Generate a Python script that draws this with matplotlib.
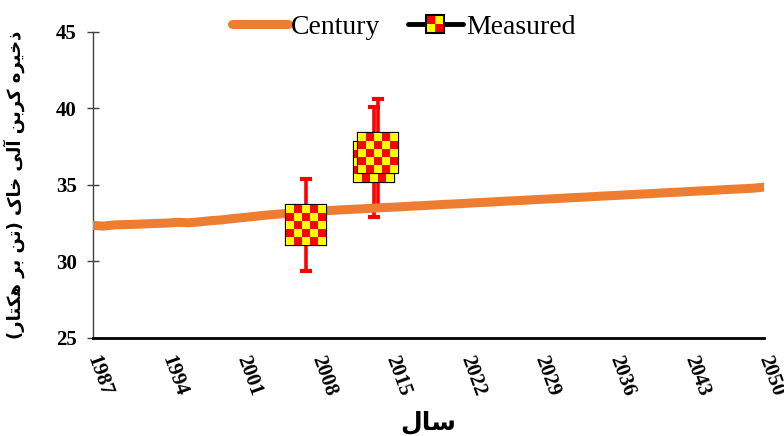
import numpy as np
import matplotlib
matplotlib.use("Agg")
import matplotlib.pyplot as plt
from matplotlib.lines import Line2D
from matplotlib.patches import Rectangle
from matplotlib.offsetbox import OffsetImage, AnnotationBbox
from matplotlib.legend_handler import HandlerBase

# ---------------- data ----------------
years = list(range(1987, 2051))
century = [32.35, 32.30, 32.38, 32.40, 32.42, 32.45, 32.48, 32.50, 32.55, 32.52,
           32.58, 32.65, 32.70, 32.78, 32.85, 32.92, 33.00, 33.06, 33.12, 33.18,
           33.22, 33.27, 33.31, 33.35, 33.39, 33.42, 33.46, 33.50, 33.53, 33.57,
           33.61, 33.64, 33.68, 33.72, 33.75, 33.79, 33.83, 33.86, 33.90, 33.94,
           33.97, 34.01, 34.05, 34.08, 34.12, 34.16, 34.19, 34.23, 34.27, 34.30,
           34.34, 34.38, 34.41, 34.45, 34.49, 34.52, 34.56, 34.60, 34.63, 34.67,
           34.71, 34.74, 34.78, 34.85]
meas_x = [2007.0, 2013.45, 2013.8]
meas_y = [32.37, 36.50, 37.09]
meas_err = [3.0, 3.6, 3.5]

xticks = [1987, 1994, 2001, 2008, 2015, 2022, 2029, 2036, 2043, 2050]
yticks = [25, 30, 35, 40, 45]
ylabel_fa = "ذخیره کربن آلی خاک (تن بر هکتار)"
xlabel_fa = "سال"
legend_labels = ["Century", "Measured"]

ORANGE = "#ED7D31"
RED = "#FF0000"
YELLOW = "#FFFF00"

# ---------- minimal Persian shaping (presentation forms + visual order) ----------
DUAL = {
    'خ': (0xFEA5, 0xFEA6, 0xFEA7, 0xFEA8),
    'ی': (0xFBFC, 0xFBFD, 0xFBFE, 0xFBFF),
    'ه': (0xFEE9, 0xFEEA, 0xFEEB, 0xFEEC),
    'ک': (0xFB8E, 0xFB8F, 0xFB90, 0xFB91),
    'ب': (0xFE8F, 0xFE90, 0xFE91, 0xFE92),
    'ن': (0xFEE5, 0xFEE6, 0xFEE7, 0xFEE8),
    'ل': (0xFEDD, 0xFEDE, 0xFEDF, 0xFEE0),
    'ت': (0xFE95, 0xFE96, 0xFE97, 0xFE98),
    'س': (0xFEB1, 0xFEB2, 0xFEB3, 0xFEB4),
}
RIGHT = {
    'ذ': (0xFEAB, 0xFEAC),
    'ر': (0xFEAD, 0xFEAE),
    'آ': (0xFE81, 0xFE82),
    'ا': (0xFE8D, 0xFE8E),
}


def shape(s):
    out = []
    for i, c in enumerate(s):
        prev = s[i - 1] if i > 0 else ''
        nxt = s[i + 1] if i + 1 < len(s) else ''
        jp = prev in DUAL and (c in DUAL or c in RIGHT)
        if c in DUAL:
            jn = nxt in DUAL or nxt in RIGHT
            f = DUAL[c]
            out.append(chr(f[3] if (jp and jn) else f[1] if jp else f[2] if jn else f[0]))
        elif c in RIGHT:
            f = RIGHT[c]
            out.append(chr(f[1] if jp else f[0]))
        else:
            out.append(c)
    mirror = {'(': ')', ')': '('}
    return ''.join(mirror.get(c, c) for c in reversed(out))


# ---------------- figure ----------------
plt.rcParams['font.family'] = ['Liberation Serif', 'DejaVu Sans']
fig = plt.figure(figsize=(7.84, 4.36), dpi=100)
ax = fig.add_axes([0.118, 0.225, 0.8565, 0.7023])

# error bars (behind line)
ax.errorbar(meas_x, meas_y, yerr=meas_err, fmt='none', ecolor=RED,
            elinewidth=2.6, capsize=4.3, capthick=3.0, zorder=2)

# century line
ax.plot(years, century, color=ORANGE, lw=6.5, solid_capstyle='round', zorder=3)

# checker markers
n = 5
chk = np.zeros((n, n, 3))
for i in range(n):
    for j in range(n):
        chk[i, j] = (1, 1, 0) if (i + j) % 2 == 0 else (1, 0, 0)

for xv, yv in zip(meas_x, meas_y):
    im = OffsetImage(chk, zoom=8, interpolation='nearest', dpi_cor=False)
    ab = AnnotationBbox(im, (xv, yv), xycoords='data', frameon=True, pad=0.0,
                        bboxprops=dict(edgecolor='black', lw=1.6, facecolor='none'),
                        zorder=5)
    ax.add_artist(ab)

ax.set_xlim(1987, 2050)
ax.set_ylim(25, 45)
ax.set_xticks(xticks)
ax.set_yticks(yticks)
ax.set_xticklabels([str(t) for t in xticks], rotation=-70, rotation_mode='anchor',
                   ha='left', va='center', fontsize=15, fontweight='bold')
ax.set_yticklabels([str(t) for t in yticks], fontsize=15, fontweight='bold')
ax.tick_params(axis='x', length=0, pad=13)
ax.tick_params(axis='y', direction='inout', length=8.5, width=1.0, color='#404040', pad=7)

for s in ['top', 'right']:
    ax.spines[s].set_visible(False)
ax.spines['left'].set_color('#404040')
ax.spines['left'].set_linewidth(1.0)
ax.spines['bottom'].set_color('black')
ax.spines['bottom'].set_linewidth(2.0)

ax.set_ylabel(shape(ylabel_fa), family=['DejaVu Sans'], fontsize=13, fontweight='bold',
              labelpad=22)
ax.set_xlabel(shape(xlabel_fa), family=['DejaVu Sans'], fontsize=18, fontweight='bold',
              labelpad=8)


# legend
class CheckerHandler(HandlerBase):
    def create_artists(self, legend, orig_handle, xdescent, ydescent, width, height,
                       fontsize, trans):
        cy = height / 2 - ydescent
        line = Line2D([-xdescent, width - xdescent], [cy, cy], color='black', lw=3.5,
                      solid_capstyle='round', transform=trans)
        arts = [line]
        s = 13.0
        x0 = (width - xdescent) / 2 - s / 2
        y0 = cy - s / 2
        k = 2
        c = s / k
        for i in range(k):
            for j in range(k):
                col = RED if (i + j) % 2 == 0 else YELLOW
                arts.append(Rectangle((x0 + j * c, y0 + (k - 1 - i) * c), c, c,
                                      facecolor=col, edgecolor='none', transform=trans))
        arts.append(Rectangle((x0, y0), s, s, facecolor='none', edgecolor='black',
                              lw=1.5, transform=trans))
        return arts


h1 = Line2D([], [], color=ORANGE, lw=6.5, solid_capstyle='round')
h2 = object()
leg = fig.legend([h1, h2], legend_labels, loc='center', bbox_to_anchor=(0.515, 0.938),
                 ncol=2, frameon=False, fontsize=20, handlelength=2.0,
                 handletextpad=0.1, columnspacing=1.0,
                 handler_map={type(h2): CheckerHandler()})

fig.savefig('out.png', dpi=100)
